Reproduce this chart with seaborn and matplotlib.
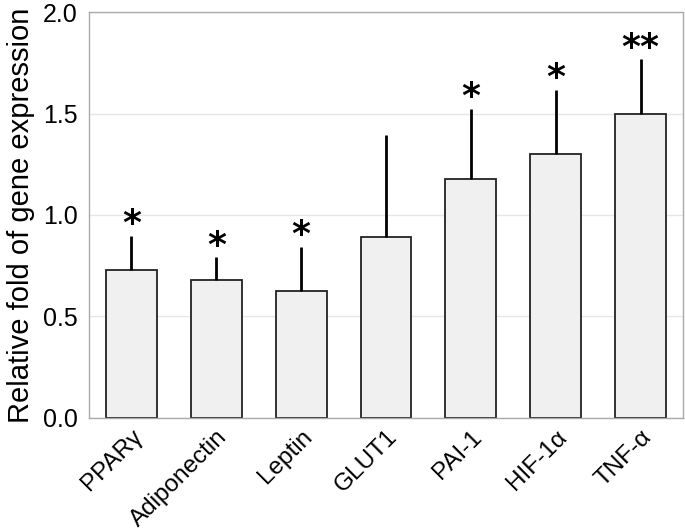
import matplotlib
matplotlib.use("Agg")
import matplotlib.pyplot as plt
import seaborn as sns
import pandas as pd

genes = ["PPARγ", "Adiponectin", "Leptin", "GLUT1", "PAI-1", "HIF-1α", "TNF-α"]
means = [0.73, 0.678, 0.626, 0.89, 1.175, 1.30, 1.50]
errs = [0.168, 0.112, 0.217, 0.506, 0.349, 0.317, 0.268]
marks = ["*", "*", "*", "", "*", "*", "**"]

df = pd.DataFrame({"gene": genes, "mean": means})

sns.set_style("white")
plt.rcParams["font.family"] = ["Liberation Sans", "DejaVu Sans"]
plt.rcParams["text.color"] = "black"
plt.rcParams["axes.labelcolor"] = "black"
plt.rcParams["xtick.color"] = "black"
plt.rcParams["ytick.color"] = "black"

fig, ax = plt.subplots(figsize=(6.85, 5.30), dpi=100)
sns.barplot(data=df, x="gene", y="mean", color="#f0f0f0", edgecolor="#222222",
            linewidth=1.3, width=0.6, saturation=1, ax=ax, zorder=2)

# upper error bars only
ax.errorbar(range(len(genes)), means, yerr=[[0] * len(errs), errs], fmt="none",
            ecolor="black", elinewidth=2, capsize=0, zorder=3)

for i, (m, e, s) in enumerate(zip(means, errs, marks)):
    if s:
        ax.annotate(s, (i, m + e), xytext=(0, 1), textcoords="offset points",
                    ha="center", va="baseline", fontsize=26, fontweight="bold",
                    family="DejaVu Sans", color="black")

ax.set_xlim(-0.5, len(genes) - 0.5)
ax.set_ylim(0, 2.0)
ax.set_yticks([0, 0.5, 1.0, 1.5, 2.0])
ax.set_yticklabels(["0.0", "0.5", "1.0", "1.5", "2.0"])
ax.yaxis.grid(True, color="#e6e6e6", linewidth=1, zorder=0)
ax.set_axisbelow(True)
ax.tick_params(axis="y", length=0, labelsize=18, pad=8)
ax.tick_params(axis="x", length=0, labelsize=17.5, pad=6)
plt.setp(ax.get_xticklabels(), rotation=45, ha="right", rotation_mode="anchor")
ax.set_xlabel("")
ax.set_ylabel("Relative fold of gene expression", fontsize=21, labelpad=6)
for sp in ax.spines.values():
    sp.set_color("#aaaaaa")
    sp.set_linewidth(1)

fig.subplots_adjust(left=0.13, right=0.997, top=0.977, bottom=0.212)
fig.savefig("out.png", dpi=100)
